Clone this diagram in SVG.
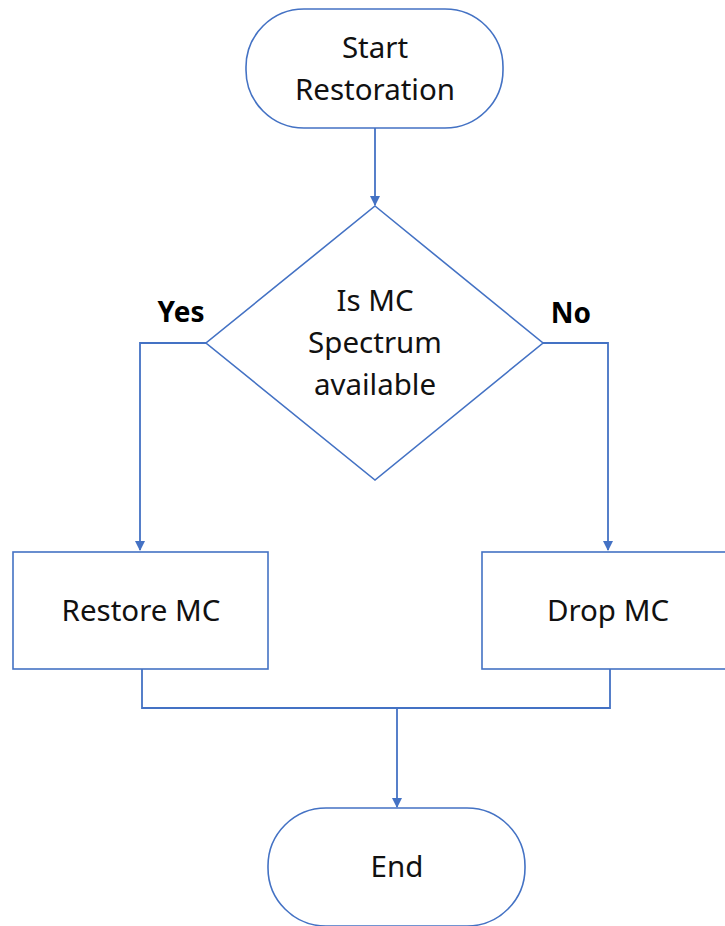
<svg xmlns="http://www.w3.org/2000/svg" width="725" height="926" viewBox="0 0 725 926">
<defs>
<style>
.shape{fill:#fff;stroke:#4472C4;stroke-width:1.6}
.conn{fill:none;stroke:#4472C4;stroke-width:1.8}
.t{font-family:"Noto Sans","Open Sans",sans-serif;font-size:29.5px;fill:#111;text-anchor:middle}
.lbl{font-family:"Noto Sans","Open Sans",sans-serif;font-size:28px;font-weight:bold;fill:#000;text-anchor:middle}
</style>
<marker id="arr" markerWidth="10" markerHeight="10" refX="9" refY="5" orient="auto" markerUnits="userSpaceOnUse">
<path d="M0,0 L10,5 L0,10 Z" fill="#4472C4"/>
</marker>
</defs>
<rect width="725" height="926" fill="#fff"/>
<g id="connectors">
<path class="conn" d="M375,128 V205" marker-end="url(#arr)"/>
<path class="conn" d="M206,343 H140 V550" marker-end="url(#arr)"/>
<path class="conn" d="M543,343 H608 V550" marker-end="url(#arr)"/>
<path class="conn" d="M142,669 V708 H610 V669"/>
<path class="conn" d="M397,708 V807" marker-end="url(#arr)"/>
</g>
<g id="start">
<rect class="shape" x="246" y="9" width="257" height="119" rx="58" ry="58"/>
<text class="t" x="375" y="58">Start</text>
<text class="t" x="375" y="100">Restoration</text>
</g>
<g id="decision">
<polygon class="shape" points="375,206 543,343 375,480 206,343"/>
<text class="t" x="375" y="311">Is MC</text>
<text class="t" x="375" y="353">Spectrum</text>
<text class="t" x="375" y="395">available</text>
</g>
<g id="labels">
<text class="lbl" x="181" y="322">Yes</text>
<text class="lbl" x="571" y="323">No</text>
</g>
<g id="restore">
<rect class="shape" x="13" y="552" width="255" height="117"/>
<text class="t" x="141" y="621">Restore MC</text>
</g>
<g id="drop">
<rect class="shape" x="482" y="552" width="255" height="117"/>
<text class="t" x="608" y="621">Drop MC</text>
</g>
<g id="end">
<rect class="shape" x="268" y="808" width="257" height="118" rx="58" ry="58"/>
<text class="t" x="397" y="877">End</text>
</g>
</svg>
